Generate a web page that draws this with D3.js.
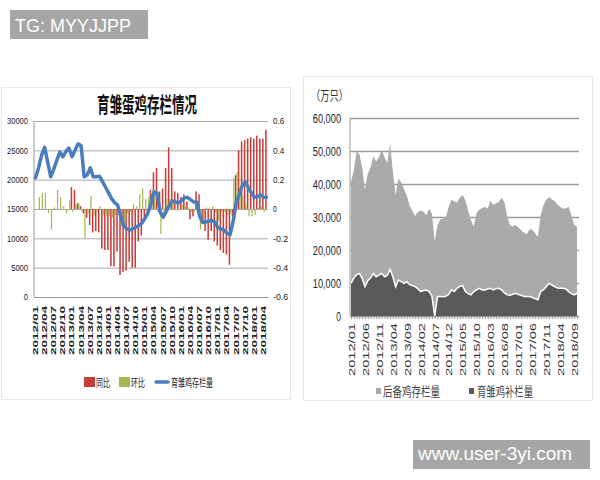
<!DOCTYPE html>
<html><head><meta charset="utf-8">
<script src="https://cdn.jsdelivr.net/npm/d3@7"></script>
<style>body{margin:0;background:#fff}svg{display:block}</style>
</head><body>
<script>
// ---------- DATA ----------
function monthList(y, m, n) { const out = []; for (let k = 0; k < n; k++) { const mm = m - 1 + k; out.push((y + Math.floor(mm / 12)) + '/' + String(mm % 12 + 1).padStart(2, '0')); } return out; }
const leftMonths = monthList(2012, 1, 77);   // 2012/01 .. 2018/05
const rightMonths = monthList(2012, 1, 82);  // 2012/01 .. 2018/10

// 育雏鸡存栏量 (left axis)
const stockLine = [20300,22000,24200,25500,23000,20500,21800,23300,24700,23900,
 24800,25400,23900,25000,26100,25800,20500,20800,22000,20500,
 20500,20600,19700,18750,17800,16800,16100,15700,13800,12200,
 11600,11400,11600,11900,12200,12600,13400,14300,16000,17900,
 17700,14500,13600,14600,15600,16400,16200,16000,16400,16900,
 17000,16600,16200,16200,13800,12700,12800,12900,13100,12800,
 11800,11600,11400,10900,10600,12800,16000,17400,19000,19600,
 18700,17800,17000,17100,17400,17000,17000];
// 同比 (right axis)
const yoy = [null,null,null,null,null,null,null,null,null,null,null,null,
 0.15,0.13,0.04,0.02,-0.03,-0.06,-0.11,-0.16,-0.15,-0.16,
 -0.27,-0.28,-0.28,-0.39,-0.39,-0.29,-0.45,-0.43,-0.42,-0.36,
 -0.40,-0.40,-0.22,-0.18,-0.08,-0.04,0.13,0.25,0.28,0.12,
 0.14,0.28,0.42,0.28,0.12,0.11,0.08,0.10,0.05,-0.07,
 -0.05,0.12,0.10,-0.09,-0.15,-0.21,-0.15,-0.22,-0.25,-0.28,
 -0.30,-0.31,-0.38,-0.05,0.23,0.40,0.46,0.47,0.48,0.49,
 0.48,0.50,0.48,0.48,0.54];
// 环比 (right axis)
const mom = [0,0.08,0.11,0.11,-0.03,-0.14,0.01,0.13,0.08,0.02,
 -0.03,0.06,-0.02,0.03,0.04,-0.02,-0.20,-0.03,0.09,-0.05,
 -0.02,0.02,-0.04,-0.05,-0.05,-0.06,-0.04,-0.02,-0.12,-0.11,
 -0.03,-0.02,0.03,0.02,0.10,0.14,0.07,0.08,0.11,0.12,
 -0.02,-0.17,-0.07,0.07,0.07,0.05,-0.01,-0.01,0.03,0.02,
 0.01,-0.02,-0.02,0.00,-0.14,-0.08,0.01,0.01,0.02,-0.02,
 -0.08,-0.02,-0.02,-0.04,-0.03,0.21,0.25,0.09,0.09,0.03,
 -0.05,-0.05,-0.04,0.01,0.02,-0.02,0.00];
const leftTicks = [0,5000,10000,15000,20000,25000,30000];
const leftRightTicks = [-0.6,-0.4,-0.2,0,0.2,0.4,0.6];
const leftXLabels = ['2012/01','2012/04','2012/07','2012/10','2013/01','2013/04','2013/07','2013/10',
 '2014/01','2014/04','2014/07','2014/10','2015/01','2015/04','2015/07','2015/10',
 '2016/01','2016/04','2016/07','2016/10','2017/01','2017/04','2017/07','2017/10','2018/01','2018/04'];

// 后备鸡存栏量
const reserve = [40700,44000,50000,49000,45000,38200,43000,45000,48500,46800,
 48000,50300,48200,46300,52300,43700,36700,41700,40500,38500,
 36500,33500,31800,30300,31500,32000,31500,30500,32500,31000,
 22500,27500,29400,29500,30000,33000,35200,34700,34300,35800,
 36700,35000,32000,29000,27100,31200,32200,32700,33000,32600,
 35000,33600,34200,34600,35800,34500,30000,27500,27100,27600,
 26800,26000,25200,24800,26300,26100,25000,24000,30500,33600,
 35200,36000,35400,34800,33800,33000,32600,32600,33100,30500,
 27600,27100];
// 育雏鸡补栏量
const chick = [9900,11500,12500,12900,11400,8900,10700,11500,12900,11900,
 12400,12900,11900,12300,14100,11900,8900,10900,10400,9900,
 10400,9500,9200,8900,8200,7400,7700,7900,7400,6000,
 0,5900,5900,5800,6000,6500,7900,7400,8400,9000,
 9200,7400,6800,6400,7400,7900,8400,7900,7900,8200,
 8400,7900,8300,8400,7900,7000,6400,6300,6600,6900,
 6500,6300,5900,5900,5900,5600,5200,4900,7400,8000,
 8900,9900,9400,8900,8500,8400,8400,8200,7400,6800,
 6400,6900];
const rightTicks = [0,10000,20000,30000,40000,50000,60000];
const rightXLabels = ['2012/01','2012/06','2012/11','2013/04','2013/09','2014/02','2014/07','2014/12',
 '2015/05','2015/10','2016/03','2016/08','2017/01','2017/06','2017/11','2018/04','2018/09'];

// ---------- DRAW ----------
const NUM = '"Liberation Sans", Arial, sans-serif';
const CJK = '"Noto Sans CJK SC", sans-serif';
const svg = d3.select('body').append('svg').attr('width', 600).attr('height', 480);

// panel frames
svg.append('rect').attr('x', 1.5).attr('y', 87.5).attr('width', 289).attr('height', 312)
  .attr('fill', 'none').attr('stroke', '#e8e8e8');
svg.append('rect').attr('x', 303.5).attr('y', 76.5).attr('width', 289).attr('height', 324)
  .attr('fill', 'none').attr('stroke', '#e8e8e8');

// ===== Left chart =====
const L = { x0: 34, x1: 268, y0: 297, y1: 121 };
const xL = d3.scaleBand().domain(leftMonths).range([L.x0, L.x1]);
const yLl = d3.scaleLinear().domain([0, 30000]).range([L.y0, L.y1]);
const yLr = d3.scaleLinear().domain([-0.6, 0.6]).range([L.y0, L.y1]);
const bw = xL.bandwidth();

svg.append('text').attr('x', 147).attr('y', 112).attr('text-anchor', 'middle')
  .attr('textLength', 100).attr('lengthAdjust', 'spacingAndGlyphs')
  .style('font', 'bold 21px ' + CJK).attr('fill', '#111').text('育雏蛋鸡存栏情况');

const gLy = svg.append('g').attr('transform', `translate(${L.x0},0)`)
  .call(d3.axisLeft(yLl).tickValues(leftTicks).tickSize(-(L.x1 - L.x0)).tickPadding(6).tickFormat(d => String(d)));
gLy.select('.domain').remove();
gLy.selectAll('line').attr('stroke', '#a9a9a9').attr('stroke-width', 1);
gLy.selectAll('text').style('font', '8.5px ' + NUM).attr('fill', '#222')
  .attr('textLength', d => String(d).length * 4.2).attr('lengthAdjust', 'spacingAndGlyphs');

const gLr = svg.append('g').attr('transform', `translate(${L.x1},0)`)
  .call(d3.axisRight(yLr).tickValues(leftRightTicks).tickSize(0).tickPadding(5).tickFormat(d => String(d)));
gLr.select('.domain').remove();
gLr.selectAll('text').style('font', '8.5px ' + NUM).attr('fill', '#222')
  .attr('textLength', d => String(d).length * 3.8).attr('lengthAdjust', 'spacingAndGlyphs');

svg.append('line').attr('x1', L.x0).attr('x2', L.x0).attr('y1', L.y1).attr('y2', L.y0).attr('stroke', '#999');

const gLx = svg.append('g').attr('transform', `translate(0,${L.y0})`)
  .call(d3.axisBottom(xL).tickValues(leftXLabels).tickSize(0));
gLx.select('.domain').attr('stroke', '#999');
gLx.selectAll('text').attr('transform', 'rotate(-90)').attr('x', -9).attr('y', 0).attr('dy', '0.35em')
  .style('text-anchor', 'end').style('font', 'bold 7px ' + NUM).attr('fill', '#222')
  .attr('textLength', 49).attr('lengthAdjust', 'spacingAndGlyphs');

const redData = leftMonths.map((m, i) => ({ m, v: yoy[i] })).filter(d => d.v != null);
svg.append('g').selectAll('rect').data(redData).join('rect')
  .attr('x', d => xL(d.m) + bw * 0.06).attr('width', bw * 0.5)
  .attr('y', d => Math.min(yLr(d.v), yLr(0))).attr('height', d => Math.abs(yLr(d.v) - yLr(0)))
  .attr('fill', '#c83c3a');
const greenData = leftMonths.map((m, i) => ({ m, v: mom[i] }));
svg.append('g').selectAll('rect').data(greenData).join('rect')
  .attr('x', d => xL(d.m) + bw * 0.56).attr('width', bw * 0.4)
  .attr('y', d => Math.min(yLr(d.v), yLr(0))).attr('height', d => Math.abs(yLr(d.v) - yLr(0)))
  .attr('fill', '#a3b84e');

svg.append('path').datum(leftMonths.map((m, i) => ({ m, v: stockLine[i] })))
  .attr('fill', 'none').attr('stroke', '#4a7dbc').attr('stroke-width', 3.5)
  .attr('stroke-linejoin', 'round').attr('stroke-linecap', 'round')
  .attr('d', d3.line().x(d => xL(d.m) + bw / 2).y(d => yLl(d.v)));

// left legend
const legL = svg.append('g').style('font', '11px ' + CJK).attr('fill', '#222');
legL.append('rect').attr('x', 84).attr('y', 377).attr('width', 11).attr('height', 10).attr('fill', '#c83c3a');
legL.append('text').attr('x', 96).attr('y', 387).attr('textLength', 14).attr('lengthAdjust', 'spacingAndGlyphs').text('同比');
legL.append('rect').attr('x', 119).attr('y', 377).attr('width', 11).attr('height', 10).attr('fill', '#a3b84e');
legL.append('text').attr('x', 131).attr('y', 387).attr('textLength', 14).attr('lengthAdjust', 'spacingAndGlyphs').text('环比');
legL.append('line').attr('x1', 156).attr('x2', 168).attr('y1', 382).attr('y2', 382)
  .attr('stroke', '#4a7dbc').attr('stroke-width', 3.5).attr('stroke-linecap', 'round');
legL.append('text').attr('x', 171).attr('y', 387).attr('textLength', 42).attr('lengthAdjust', 'spacingAndGlyphs').text('育雏鸡存栏量');

// ===== Right chart =====
const R = { x0: 350, x1: 579, y0: 316, y1: 118 };
const xR = d3.scalePoint().domain(rightMonths).range([351, 577]);
const yR = d3.scaleLinear().domain([0, 60000]).range([R.y0, R.y1]);

svg.append('text').attr('x', 311).attr('y', 100).attr('textLength', 37).attr('lengthAdjust', 'spacingAndGlyphs')
  .style('font', '13px ' + CJK).attr('fill', '#333').text('（万只）');

const gRy = svg.append('g').attr('transform', `translate(${R.x0},0)`)
  .call(d3.axisLeft(yR).tickValues(rightTicks).tickSize(-(R.x1 - R.x0)).tickPadding(9).tickFormat(d3.format(',')));
gRy.select('.domain').remove();
gRy.selectAll('line').attr('stroke', '#9a9a9a').attr('stroke-width', 1.3);
gRy.selectAll('text').style('font', '13px ' + NUM).attr('fill', '#222')
  .attr('textLength', d => d3.format(',')(d).length * 4.7).attr('lengthAdjust', 'spacingAndGlyphs');

const rData = rightMonths.map((m, i) => ({ m, a: reserve[i], b: chick[i] }));
svg.append('path').datum(rData).attr('fill', '#aaaaaa')
  .attr('d', d3.area().x(d => xR(d.m)).y0(yR(0)).y1(d => yR(d.a)));
svg.append('path').datum(rData).attr('fill', '#595959')
  .attr('d', d3.area().x(d => xR(d.m)).y0(yR(0)).y1(d => yR(d.b)));
svg.append('path').datum(rData).attr('fill', 'none').attr('stroke', '#fff').attr('stroke-width', 1.5)
  .attr('d', d3.line().x(d => xR(d.m)).y(d => yR(d.b)));

svg.append('line').attr('x1', R.x0).attr('x2', R.x0).attr('y1', R.y1).attr('y2', R.y0).attr('stroke', '#999');
const gRt = svg.append('g').attr('transform', `translate(0,${R.y0})`)
  .call(d3.axisBottom(xR).tickSize(3).tickFormat(''));
gRt.select('.domain').attr('stroke', '#999').attr('d', `M${R.x0},0.5H${R.x1}`);
gRt.selectAll('line').attr('stroke', '#999');
const gRx = svg.append('g').attr('transform', `translate(0,${R.y0})`)
  .call(d3.axisBottom(xR).tickValues(rightXLabels).tickSize(0));
gRx.select('.domain').remove();
gRx.selectAll('text').attr('transform', 'rotate(-90)').attr('x', -7).attr('y', 0).attr('dy', '0.35em')
  .style('text-anchor', 'end').style('font', '9.5px ' + NUM).attr('fill', '#333')
  .attr('textLength', 53).attr('lengthAdjust', 'spacingAndGlyphs');

// right legend
const legR = svg.append('g').style('font', '13px ' + CJK).attr('fill', '#444');
legR.append('rect').attr('x', 376).attr('y', 388).attr('width', 5).attr('height', 6).attr('fill', '#aaaaaa');
legR.append('text').attr('x', 383).attr('y', 396).attr('textLength', 57).attr('lengthAdjust', 'spacingAndGlyphs').text('后备鸡存栏量');
legR.append('rect').attr('x', 469).attr('y', 388).attr('width', 5).attr('height', 6).attr('fill', '#595959');
legR.append('text').attr('x', 477).attr('y', 396).attr('textLength', 56).attr('lengthAdjust', 'spacingAndGlyphs').text('育雏鸡补栏量');

// watermark boxes
svg.append('rect').attr('x', 10).attr('y', 10).attr('width', 138).attr('height', 29).attr('fill', '#a6a6a6');
svg.append('text').attr('x', 15).attr('y', 31.5).style('font', '18px ' + NUM).attr('fill', '#fff').text('TG: MYYJJPP');
svg.append('rect').attr('x', 413).attr('y', 440).attr('width', 177).attr('height', 29).attr('fill', '#a6a6a6');
svg.append('text').attr('x', 418).attr('y', 460).style('font', '19px ' + NUM).attr('fill', '#fff').text('www.user-3yi.com');
</script>
</body></html>
